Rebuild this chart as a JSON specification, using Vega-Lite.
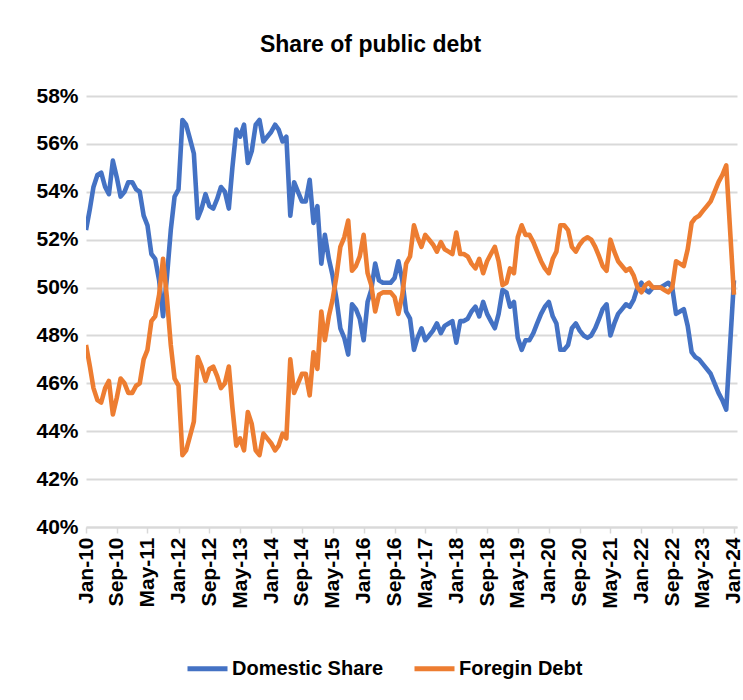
{
  "$schema": "https://vega.github.io/schema/vega-lite/v6.json",
  "autosize": {"type": "none"},
  "width": 651,
  "height": 431,
  "padding": {"left": 86, "top": 96, "right": 6, "bottom": 173},
  "background": "#ffffff",
  "title": {
    "text": "Share of public debt",
    "font": "Liberation Sans",
    "fontSize": 23,
    "fontWeight": "bold",
    "color": "#000000",
    "anchor": "middle",
    "dx": -41,
    "offset": 28
  },
  "data": {
    "values": [
      {"month": "2010-01", "Domestic Share": 52.4, "Foregin Debt": 47.6},
      {"month": "2010-02", "Domestic Share": 53.3, "Foregin Debt": 46.7},
      {"month": "2010-03", "Domestic Share": 54.2, "Foregin Debt": 45.8},
      {"month": "2010-04", "Domestic Share": 54.7, "Foregin Debt": 45.3},
      {"month": "2010-05", "Domestic Share": 54.8, "Foregin Debt": 45.2},
      {"month": "2010-06", "Domestic Share": 54.2, "Foregin Debt": 45.8},
      {"month": "2010-07", "Domestic Share": 53.9, "Foregin Debt": 46.1},
      {"month": "2010-08", "Domestic Share": 55.3, "Foregin Debt": 44.7},
      {"month": "2010-09", "Domestic Share": 54.6, "Foregin Debt": 45.4},
      {"month": "2010-10", "Domestic Share": 53.8, "Foregin Debt": 46.2},
      {"month": "2010-11", "Domestic Share": 54.0, "Foregin Debt": 46.0},
      {"month": "2010-12", "Domestic Share": 54.4, "Foregin Debt": 45.6},
      {"month": "2011-01", "Domestic Share": 54.4, "Foregin Debt": 45.6},
      {"month": "2011-02", "Domestic Share": 54.1, "Foregin Debt": 45.9},
      {"month": "2011-03", "Domestic Share": 54.0, "Foregin Debt": 46.0},
      {"month": "2011-04", "Domestic Share": 53.0, "Foregin Debt": 47.0},
      {"month": "2011-05", "Domestic Share": 52.6, "Foregin Debt": 47.4},
      {"month": "2011-06", "Domestic Share": 51.4, "Foregin Debt": 48.6},
      {"month": "2011-07", "Domestic Share": 51.2, "Foregin Debt": 48.8},
      {"month": "2011-08", "Domestic Share": 50.3, "Foregin Debt": 49.7},
      {"month": "2011-09", "Domestic Share": 48.8, "Foregin Debt": 51.2},
      {"month": "2011-10", "Domestic Share": 50.4, "Foregin Debt": 49.6},
      {"month": "2011-11", "Domestic Share": 52.4, "Foregin Debt": 47.6},
      {"month": "2011-12", "Domestic Share": 53.8, "Foregin Debt": 46.2},
      {"month": "2012-01", "Domestic Share": 54.1, "Foregin Debt": 45.9},
      {"month": "2012-02", "Domestic Share": 57.0, "Foregin Debt": 43.0},
      {"month": "2012-03", "Domestic Share": 56.8, "Foregin Debt": 43.2},
      {"month": "2012-04", "Domestic Share": 56.2, "Foregin Debt": 43.8},
      {"month": "2012-05", "Domestic Share": 55.6, "Foregin Debt": 44.4},
      {"month": "2012-06", "Domestic Share": 52.9, "Foregin Debt": 47.1},
      {"month": "2012-07", "Domestic Share": 53.3, "Foregin Debt": 46.7},
      {"month": "2012-08", "Domestic Share": 53.9, "Foregin Debt": 46.1},
      {"month": "2012-09", "Domestic Share": 53.4, "Foregin Debt": 46.6},
      {"month": "2012-10", "Domestic Share": 53.3, "Foregin Debt": 46.7},
      {"month": "2012-11", "Domestic Share": 53.7, "Foregin Debt": 46.3},
      {"month": "2012-12", "Domestic Share": 54.2, "Foregin Debt": 45.8},
      {"month": "2013-01", "Domestic Share": 54.0, "Foregin Debt": 46.0},
      {"month": "2013-02", "Domestic Share": 53.3, "Foregin Debt": 46.7},
      {"month": "2013-03", "Domestic Share": 55.0, "Foregin Debt": 45.0},
      {"month": "2013-04", "Domestic Share": 56.6, "Foregin Debt": 43.4},
      {"month": "2013-05", "Domestic Share": 56.3, "Foregin Debt": 43.7},
      {"month": "2013-06", "Domestic Share": 56.8, "Foregin Debt": 43.2},
      {"month": "2013-07", "Domestic Share": 55.2, "Foregin Debt": 44.8},
      {"month": "2013-08", "Domestic Share": 55.7, "Foregin Debt": 44.3},
      {"month": "2013-09", "Domestic Share": 56.8, "Foregin Debt": 43.2},
      {"month": "2013-10", "Domestic Share": 57.0, "Foregin Debt": 43.0},
      {"month": "2013-11", "Domestic Share": 56.1, "Foregin Debt": 43.9},
      {"month": "2013-12", "Domestic Share": 56.3, "Foregin Debt": 43.7},
      {"month": "2014-01", "Domestic Share": 56.5, "Foregin Debt": 43.5},
      {"month": "2014-02", "Domestic Share": 56.8, "Foregin Debt": 43.2},
      {"month": "2014-03", "Domestic Share": 56.6, "Foregin Debt": 43.4},
      {"month": "2014-04", "Domestic Share": 56.1, "Foregin Debt": 43.9},
      {"month": "2014-05", "Domestic Share": 56.3, "Foregin Debt": 43.7},
      {"month": "2014-06", "Domestic Share": 53.0, "Foregin Debt": 47.0},
      {"month": "2014-07", "Domestic Share": 54.4, "Foregin Debt": 45.6},
      {"month": "2014-08", "Domestic Share": 54.0, "Foregin Debt": 46.0},
      {"month": "2014-09", "Domestic Share": 53.6, "Foregin Debt": 46.4},
      {"month": "2014-10", "Domestic Share": 53.6, "Foregin Debt": 46.4},
      {"month": "2014-11", "Domestic Share": 54.5, "Foregin Debt": 45.5},
      {"month": "2014-12", "Domestic Share": 52.7, "Foregin Debt": 47.3},
      {"month": "2015-01", "Domestic Share": 53.4, "Foregin Debt": 46.6},
      {"month": "2015-02", "Domestic Share": 51.0, "Foregin Debt": 49.0},
      {"month": "2015-03", "Domestic Share": 52.2, "Foregin Debt": 47.8},
      {"month": "2015-04", "Domestic Share": 51.2, "Foregin Debt": 48.8},
      {"month": "2015-05", "Domestic Share": 50.5, "Foregin Debt": 49.5},
      {"month": "2015-06", "Domestic Share": 49.5, "Foregin Debt": 50.5},
      {"month": "2015-07", "Domestic Share": 48.3, "Foregin Debt": 51.7},
      {"month": "2015-08", "Domestic Share": 47.9, "Foregin Debt": 52.1},
      {"month": "2015-09", "Domestic Share": 47.2, "Foregin Debt": 52.8},
      {"month": "2015-10", "Domestic Share": 49.3, "Foregin Debt": 50.7},
      {"month": "2015-11", "Domestic Share": 49.1, "Foregin Debt": 50.9},
      {"month": "2015-12", "Domestic Share": 48.7, "Foregin Debt": 51.3},
      {"month": "2016-01", "Domestic Share": 47.8, "Foregin Debt": 52.2},
      {"month": "2016-02", "Domestic Share": 49.4, "Foregin Debt": 50.6},
      {"month": "2016-03", "Domestic Share": 49.9, "Foregin Debt": 50.1},
      {"month": "2016-04", "Domestic Share": 51.0, "Foregin Debt": 49.0},
      {"month": "2016-05", "Domestic Share": 50.3, "Foregin Debt": 49.7},
      {"month": "2016-06", "Domestic Share": 50.2, "Foregin Debt": 49.8},
      {"month": "2016-07", "Domestic Share": 50.2, "Foregin Debt": 49.8},
      {"month": "2016-08", "Domestic Share": 50.2, "Foregin Debt": 49.8},
      {"month": "2016-09", "Domestic Share": 50.4, "Foregin Debt": 49.6},
      {"month": "2016-10", "Domestic Share": 51.1, "Foregin Debt": 48.9},
      {"month": "2016-11", "Domestic Share": 50.3, "Foregin Debt": 49.7},
      {"month": "2016-12", "Domestic Share": 49.0, "Foregin Debt": 51.0},
      {"month": "2017-01", "Domestic Share": 48.7, "Foregin Debt": 51.3},
      {"month": "2017-02", "Domestic Share": 47.4, "Foregin Debt": 52.6},
      {"month": "2017-03", "Domestic Share": 47.9, "Foregin Debt": 52.1},
      {"month": "2017-04", "Domestic Share": 48.3, "Foregin Debt": 51.7},
      {"month": "2017-05", "Domestic Share": 47.8, "Foregin Debt": 52.2},
      {"month": "2017-06", "Domestic Share": 48.0, "Foregin Debt": 52.0},
      {"month": "2017-07", "Domestic Share": 48.2, "Foregin Debt": 51.8},
      {"month": "2017-08", "Domestic Share": 48.5, "Foregin Debt": 51.5},
      {"month": "2017-09", "Domestic Share": 48.1, "Foregin Debt": 51.9},
      {"month": "2017-10", "Domestic Share": 48.4, "Foregin Debt": 51.6},
      {"month": "2017-11", "Domestic Share": 48.5, "Foregin Debt": 51.5},
      {"month": "2017-12", "Domestic Share": 48.6, "Foregin Debt": 51.4},
      {"month": "2018-01", "Domestic Share": 47.7, "Foregin Debt": 52.3},
      {"month": "2018-02", "Domestic Share": 48.6, "Foregin Debt": 51.4},
      {"month": "2018-03", "Domestic Share": 48.6, "Foregin Debt": 51.4},
      {"month": "2018-04", "Domestic Share": 48.7, "Foregin Debt": 51.3},
      {"month": "2018-05", "Domestic Share": 49.0, "Foregin Debt": 51.0},
      {"month": "2018-06", "Domestic Share": 49.2, "Foregin Debt": 50.8},
      {"month": "2018-07", "Domestic Share": 48.8, "Foregin Debt": 51.2},
      {"month": "2018-08", "Domestic Share": 49.4, "Foregin Debt": 50.6},
      {"month": "2018-09", "Domestic Share": 48.9, "Foregin Debt": 51.1},
      {"month": "2018-10", "Domestic Share": 48.6, "Foregin Debt": 51.4},
      {"month": "2018-11", "Domestic Share": 48.3, "Foregin Debt": 51.7},
      {"month": "2018-12", "Domestic Share": 48.9, "Foregin Debt": 51.1},
      {"month": "2019-01", "Domestic Share": 49.9, "Foregin Debt": 50.1},
      {"month": "2019-02", "Domestic Share": 49.8, "Foregin Debt": 50.2},
      {"month": "2019-03", "Domestic Share": 49.2, "Foregin Debt": 50.8},
      {"month": "2019-04", "Domestic Share": 49.4, "Foregin Debt": 50.6},
      {"month": "2019-05", "Domestic Share": 47.9, "Foregin Debt": 52.1},
      {"month": "2019-06", "Domestic Share": 47.4, "Foregin Debt": 52.6},
      {"month": "2019-07", "Domestic Share": 47.8, "Foregin Debt": 52.2},
      {"month": "2019-08", "Domestic Share": 47.8, "Foregin Debt": 52.2},
      {"month": "2019-09", "Domestic Share": 48.1, "Foregin Debt": 51.9},
      {"month": "2019-10", "Domestic Share": 48.5, "Foregin Debt": 51.5},
      {"month": "2019-11", "Domestic Share": 48.9, "Foregin Debt": 51.1},
      {"month": "2019-12", "Domestic Share": 49.2, "Foregin Debt": 50.8},
      {"month": "2020-01", "Domestic Share": 49.4, "Foregin Debt": 50.6},
      {"month": "2020-02", "Domestic Share": 48.8, "Foregin Debt": 51.2},
      {"month": "2020-03", "Domestic Share": 48.5, "Foregin Debt": 51.5},
      {"month": "2020-04", "Domestic Share": 47.4, "Foregin Debt": 52.6},
      {"month": "2020-05", "Domestic Share": 47.4, "Foregin Debt": 52.6},
      {"month": "2020-06", "Domestic Share": 47.6, "Foregin Debt": 52.4},
      {"month": "2020-07", "Domestic Share": 48.3, "Foregin Debt": 51.7},
      {"month": "2020-08", "Domestic Share": 48.5, "Foregin Debt": 51.5},
      {"month": "2020-09", "Domestic Share": 48.2, "Foregin Debt": 51.8},
      {"month": "2020-10", "Domestic Share": 48.0, "Foregin Debt": 52.0},
      {"month": "2020-11", "Domestic Share": 47.9, "Foregin Debt": 52.1},
      {"month": "2020-12", "Domestic Share": 48.0, "Foregin Debt": 52.0},
      {"month": "2021-01", "Domestic Share": 48.3, "Foregin Debt": 51.7},
      {"month": "2021-02", "Domestic Share": 48.7, "Foregin Debt": 51.3},
      {"month": "2021-03", "Domestic Share": 49.1, "Foregin Debt": 50.9},
      {"month": "2021-04", "Domestic Share": 49.3, "Foregin Debt": 50.7},
      {"month": "2021-05", "Domestic Share": 48.0, "Foregin Debt": 52.0},
      {"month": "2021-06", "Domestic Share": 48.5, "Foregin Debt": 51.5},
      {"month": "2021-07", "Domestic Share": 48.9, "Foregin Debt": 51.1},
      {"month": "2021-08", "Domestic Share": 49.1, "Foregin Debt": 50.9},
      {"month": "2021-09", "Domestic Share": 49.3, "Foregin Debt": 50.7},
      {"month": "2021-10", "Domestic Share": 49.2, "Foregin Debt": 50.8},
      {"month": "2021-11", "Domestic Share": 49.5, "Foregin Debt": 50.5},
      {"month": "2021-12", "Domestic Share": 50.0, "Foregin Debt": 50.0},
      {"month": "2022-01", "Domestic Share": 50.2, "Foregin Debt": 49.8},
      {"month": "2022-02", "Domestic Share": 49.9, "Foregin Debt": 50.1},
      {"month": "2022-03", "Domestic Share": 49.8, "Foregin Debt": 50.2},
      {"month": "2022-04", "Domestic Share": 50.0, "Foregin Debt": 50.0},
      {"month": "2022-05", "Domestic Share": 50.0, "Foregin Debt": 50.0},
      {"month": "2022-06", "Domestic Share": 50.0, "Foregin Debt": 50.0},
      {"month": "2022-07", "Domestic Share": 50.1, "Foregin Debt": 49.9},
      {"month": "2022-08", "Domestic Share": 50.2, "Foregin Debt": 49.8},
      {"month": "2022-09", "Domestic Share": 50.0, "Foregin Debt": 50.0},
      {"month": "2022-10", "Domestic Share": 48.9, "Foregin Debt": 51.1},
      {"month": "2022-11", "Domestic Share": 49.0, "Foregin Debt": 51.0},
      {"month": "2022-12", "Domestic Share": 49.1, "Foregin Debt": 50.9},
      {"month": "2023-01", "Domestic Share": 48.4, "Foregin Debt": 51.6},
      {"month": "2023-02", "Domestic Share": 47.3, "Foregin Debt": 52.7},
      {"month": "2023-03", "Domestic Share": 47.1, "Foregin Debt": 52.9},
      {"month": "2023-04", "Domestic Share": 47.0, "Foregin Debt": 53.0},
      {"month": "2023-05", "Domestic Share": 46.8, "Foregin Debt": 53.2},
      {"month": "2023-06", "Domestic Share": 46.6, "Foregin Debt": 53.4},
      {"month": "2023-07", "Domestic Share": 46.4, "Foregin Debt": 53.6},
      {"month": "2023-08", "Domestic Share": 46.0, "Foregin Debt": 54.0},
      {"month": "2023-09", "Domestic Share": 45.6, "Foregin Debt": 54.4},
      {"month": "2023-10", "Domestic Share": 45.3, "Foregin Debt": 54.7},
      {"month": "2023-11", "Domestic Share": 44.9, "Foregin Debt": 55.1},
      {"month": "2024-01", "Domestic Share": 50.3, "Foregin Debt": 49.7}
    ]
  },
  "transform": [
    {"fold": ["Domestic Share", "Foregin Debt"], "as": ["series", "share"]}
  ],
  "mark": {"type": "line", "strokeWidth": 4.6, "strokeJoin": "round", "strokeCap": "butt", "clip": true},
  "encoding": {
    "x": {
      "field": "month",
      "type": "temporal",
      "scale": {
        "type": "utc",
        "domain": [
          {"year": 2010, "month": 1, "date": 1, "utc": true},
          {"year": 2024, "month": 1, "date": 25, "utc": true}
        ]
      },
      "axis": {
        "title": null,
        "values": [
          {"year": 2010, "month": 1, "date": 1, "utc": true},
          {"year": 2010, "month": 9, "date": 1, "utc": true},
          {"year": 2011, "month": 5, "date": 1, "utc": true},
          {"year": 2012, "month": 1, "date": 1, "utc": true},
          {"year": 2012, "month": 9, "date": 1, "utc": true},
          {"year": 2013, "month": 5, "date": 1, "utc": true},
          {"year": 2014, "month": 1, "date": 1, "utc": true},
          {"year": 2014, "month": 9, "date": 1, "utc": true},
          {"year": 2015, "month": 5, "date": 1, "utc": true},
          {"year": 2016, "month": 1, "date": 1, "utc": true},
          {"year": 2016, "month": 9, "date": 1, "utc": true},
          {"year": 2017, "month": 5, "date": 1, "utc": true},
          {"year": 2018, "month": 1, "date": 1, "utc": true},
          {"year": 2018, "month": 9, "date": 1, "utc": true},
          {"year": 2019, "month": 5, "date": 1, "utc": true},
          {"year": 2020, "month": 1, "date": 1, "utc": true},
          {"year": 2020, "month": 9, "date": 1, "utc": true},
          {"year": 2021, "month": 5, "date": 1, "utc": true},
          {"year": 2022, "month": 1, "date": 1, "utc": true},
          {"year": 2022, "month": 9, "date": 1, "utc": true},
          {"year": 2023, "month": 5, "date": 1, "utc": true},
          {"year": 2024, "month": 1, "date": 1, "utc": true}
        ],
        "labelExpr": "utcFormat(datum.value, '%b-%y')",
        "labelAngle": -90,
        "labelFont": "Liberation Sans",
        "labelFontSize": 21,
        "labelFontWeight": "bold",
        "labelColor": "#000000",
        "labelPadding": 4,
        "labelOverlap": false,
        "labelFlush": false,
        "labelBound": false,
        "grid": false,
        "domain": true,
        "domainColor": "#d9d9d9",
        "domainWidth": 2,
        "ticks": true,
        "tickColor": "#d9d9d9",
        "tickWidth": 1.5,
        "tickSize": 6
      }
    },
    "y": {
      "field": "share",
      "type": "quantitative",
      "scale": {"domain": [40, 58], "nice": false, "zero": false},
      "axis": {
        "title": null,
        "values": [40, 42, 44, 46, 48, 50, 52, 54, 56, 58],
        "labelExpr": "datum.value + '%'",
        "labelFont": "Liberation Sans",
        "labelFontSize": 21,
        "labelFontWeight": "bold",
        "labelColor": "#000000",
        "labelPadding": 8,
        "domain": false,
        "ticks": false,
        "grid": true,
        "gridColor": "#d9d9d9",
        "gridWidth": 2
      }
    },
    "color": {
      "field": "series",
      "type": "nominal",
      "scale": {
        "domain": ["Domestic Share", "Foregin Debt"],
        "range": ["#4472C4", "#ED7D31"]
      },
      "legend": {
        "title": null,
        "orient": "none",
        "direction": "horizontal",
        "legendX": 99,
        "legendY": 550,
        "symbolType": "stroke",
        "symbolSize": 1600,
        "symbolStrokeWidth": 5,
        "columnPadding": 20,
        "labelFont": "Liberation Sans",
        "labelFontSize": 20,
        "labelFontWeight": "bold",
        "labelColor": "#000000",
        "labelOffset": 2,
        "labelLimit": 400
      }
    }
  },
  "config": {
    "view": {"stroke": null}
  }
}
